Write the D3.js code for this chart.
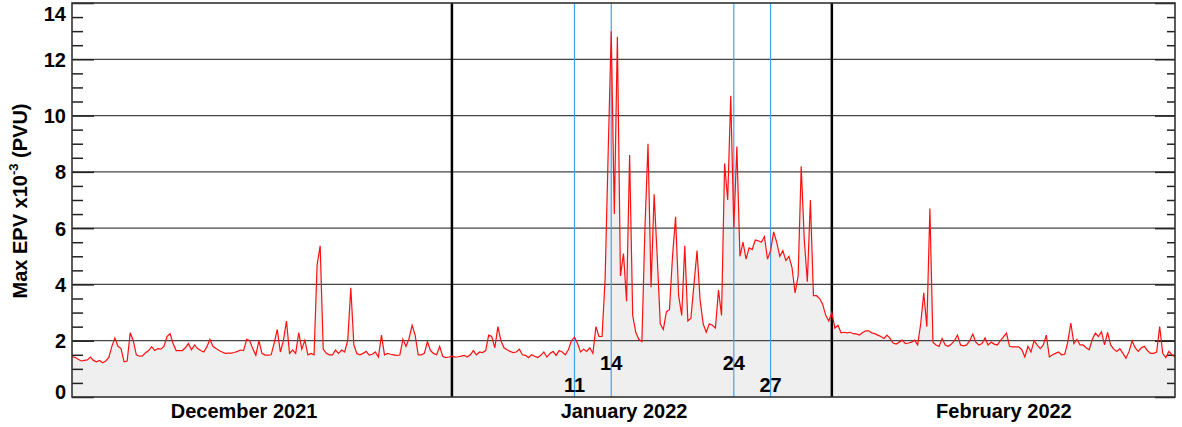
<!DOCTYPE html>
<html>
<head>
<meta charset="UTF-8">
<title>Max EPV</title>
<script src="https://d3js.org/d3.v7.min.js"></script>
<style>
  body { margin: 0; background: #fff; }
  text { font-family: "Liberation Sans", Arial, sans-serif; font-weight: bold; }
</style>
</head>
<body>
<div id="chart"></div>
<script>
// 6-hourly values, x10^-3 PVU
const decValues = [
  1.43,1.41,1.34,1.28, 1.30,1.32,1.42,1.30, 1.25,1.30,1.22,1.28, 1.40,1.80,2.10,1.80,
  1.72,1.25,1.28,2.28, 2.00,1.50,1.45,1.46, 1.57,1.65,1.79,1.65, 1.72,1.70,1.80,2.15,
  2.25,1.90,1.65,1.65, 1.65,1.75,1.90,1.68, 1.85,1.72,1.65,1.60, 1.78,2.05,1.80,1.72,
  1.65,1.60,1.55,1.56, 1.56,1.58,1.62,1.67, 1.65,2.05,2.00,1.72, 1.48,2.00,1.55,1.49,
  1.49,1.50,1.92,2.40, 1.60,2.00,2.70,1.55, 1.67,1.55,2.29,1.70, 2.02,1.50,1.55,1.50,
  4.70,5.37,1.70,1.55, 1.50,1.50,1.67,1.55, 1.67,1.60,2.02,3.88, 1.85,1.54,1.50,1.55,
  1.62,1.49,1.52,1.60, 1.42,2.20,1.50,1.55, 1.52,1.50,1.48,1.49, 2.05,1.80,2.08,2.55,
  2.20,1.50,1.50,1.55, 1.97,1.65,1.55,1.50, 1.80,1.45,1.40,1.42
]
const janValues = [
  1.45,1.42,1.43,1.45, 1.48,1.42,1.50,1.65, 1.50,1.60,1.58,1.65, 2.20,2.15,1.75,2.50,
  2.00,1.75,1.68,1.62, 1.58,1.60,1.70,1.50, 1.48,1.40,1.50,1.45, 1.40,1.48,1.60,1.42,
  1.55,1.62,1.48,1.65, 1.60,1.50,1.68,2.00, 2.12,1.90,1.60,1.70, 1.62,1.75,1.55,2.50,
  2.15,2.15,4.20,8.70, 13.00,6.50,12.80,4.30, 5.10,3.40,8.60,2.90, 2.30,2.05,1.97,6.00,
  9.00,3.90,7.20,5.00, 2.60,2.40,3.03,3.10, 5.00,6.40,3.60,2.90, 5.37,2.70,2.80,4.00,
  5.20,3.45,2.60,2.30, 2.60,2.55,2.45,3.80, 2.90,8.30,7.00,10.70, 6.00,8.90,5.00,5.50,
  4.90,5.30,5.24,5.58, 5.55,5.50,5.70,4.90, 5.20,5.87,5.50,5.00, 5.20,4.85,5.00,4.60,
  3.70,4.30,8.20,5.60, 4.10,7.00,3.60,3.60, 3.50,3.30,2.90,2.70
]
const febValues = [
  3.00,2.45,2.55,2.28, 2.30,2.28,2.30,2.25, 2.24,2.20,2.28,2.35, 2.35,2.28,2.25,2.20,
  2.15,2.08,2.20,2.08, 1.92,1.88,1.95,2.02, 1.90,1.92,1.95,2.02, 1.85,2.60,3.70,2.50,
  6.70,1.95,1.85,1.80, 2.08,1.85,1.80,1.88, 2.00,2.20,1.85,1.82, 1.85,2.00,2.24,1.95,
  1.85,1.90,2.10,1.85, 1.95,1.88,1.85,2.00, 2.14,2.27,1.80,1.78, 1.78,1.78,1.68,1.42,
  1.80,1.60,2.00,1.85, 1.72,1.85,2.20,1.42, 1.50,1.55,1.60,1.50, 1.52,1.95,2.63,1.90,
  2.05,1.85,1.85,1.75, 1.68,2.05,2.27,2.15, 2.32,1.85,2.30,1.85, 1.70,1.62,1.72,1.55,
  1.38,1.62,2.00,1.75, 1.62,1.75,1.80,1.65, 1.55,1.55,1.60,2.50, 1.55,1.40,1.62,1.50,
  1.42
]
const markDays = [11, 14, 24, 27]   // January 2022
const monthLabels = ["December 2021", "January 2022", "February 2022"]
const yTicks = [0, 2, 4, 6, 8, 10, 12, 14]

const width = 1182
const height = 427
const padding = {top: 3, left: 72, right: 7, bottom: 30}

const svg = d3.select("#chart").append("svg").attr("width", width).attr("height", height)

const start = new Date(Date.UTC(2021, 11, 1))
const end = new Date(Date.UTC(2022, 2, 1))
const series = decValues.concat(janValues, febValues)
  .map((v, i) => ({t: d3.utcHour.offset(start, 6 * i), v: v}))

const xScale = d3.scaleUtc().domain([start, end]).range([padding.left, width - padding.right])
const yScale = d3.scaleLinear().domain([0, 14]).range([height - padding.bottom, padding.top])

const x0 = padding.left, x1 = width - padding.right
const y0 = height - padding.bottom, y1 = padding.top

// grey fill under the curve
const area = d3.area().x(d => xScale(d.t)).y0(yScale(0)).y1(d => yScale(d.v))
svg.append("path").datum(series).attr("d", area).attr("fill", "#efefef")

// horizontal grid
svg.append("g").selectAll("line").data(yTicks.slice(1, -1)).enter().append("line")
  .attr("x1", x0).attr("x2", x1)
  .attr("y1", d => yScale(d)).attr("y2", d => yScale(d))
  .attr("stroke", "#444").attr("stroke-width", 1.2)

// ticks inside the frame, left and right
const minor = d3.range(0, 14.01, 0.5).filter(v => v % 2 !== 0)
const tickLines = (g, axis) => { g.call(axis); g.select(".domain").remove(); g.selectAll("line").attr("stroke", "#222").attr("stroke-width", 1.5) }
svg.append("g").attr("transform", `translate(${x0},0)`)
  .call(g => tickLines(g, d3.axisRight(yScale).tickValues(yTicks).tickSize(22).tickFormat("")))
svg.append("g").attr("transform", `translate(${x0},0)`)
  .call(g => tickLines(g, d3.axisRight(yScale).tickValues(minor).tickSize(11).tickFormat("")))
svg.append("g").attr("transform", `translate(${x1},0)`)
  .call(g => tickLines(g, d3.axisLeft(yScale).tickValues(yTicks).tickSize(20).tickFormat("")))
svg.append("g").attr("transform", `translate(${x1},0)`)
  .call(g => tickLines(g, d3.axisLeft(yScale).tickValues(minor).tickSize(8).tickFormat("")))

// y labels
const gY = svg.append("g").attr("transform", `translate(${x0},0)`)
  .call(d3.axisLeft(yScale).tickValues(yTicks).tickSize(0).tickPadding(6))
gY.select(".domain").remove()
gY.selectAll("text").attr("font-size", "20px").attr("fill", "#000")
  .attr("font-family", null)
  .attr("dy", d => d === 14 ? "0.85em" : d === 0 ? "0.05em" : "0.35em")

// blue marker lines
const jan = d => new Date(Date.UTC(2022, 0, d))
svg.append("g").selectAll("line").data(markDays).enter().append("line")
  .attr("x1", d => xScale(jan(d))).attr("x2", d => xScale(jan(d)))
  .attr("y1", y1).attr("y2", y0)
  .attr("stroke", "#3fa3f5").attr("stroke-width", 1.2)

// month separators
svg.append("g").selectAll("line").data([jan(1), new Date(Date.UTC(2022, 1, 1))]).enter().append("line")
  .attr("x1", d => xScale(d)).attr("x2", d => xScale(d))
  .attr("y1", y1).attr("y2", y0)
  .attr("stroke", "#000").attr("stroke-width", 2.5)

// red line
const line = d3.line().x(d => xScale(d.t)).y(d => yScale(d.v))
svg.append("path").datum(series).attr("d", line)
  .attr("fill", "none").attr("stroke", "#ff1010").attr("stroke-width", 1.2)

// frame
svg.append("rect").attr("x", x0).attr("y", y1).attr("width", x1 - x0).attr("height", y0 - y1)
  .attr("fill", "none").attr("stroke", "#333").attr("stroke-width", 1.6)

// day labels
svg.append("g").selectAll("text").data(markDays).enter().append("text")
  .attr("x", d => xScale(jan(d))).attr("y", (d, i) => (i === 1 || i === 2) ? yScale(0.95) : yScale(0.17))
  .attr("text-anchor", "middle").attr("font-size", "20px").text(d => d)

// month labels on the 15th
const mids = [new Date(Date.UTC(2021, 11, 15)), new Date(Date.UTC(2022, 0, 15)), new Date(Date.UTC(2022, 1, 15))]
const gX = svg.append("g").attr("transform", `translate(0,${y0})`)
  .call(d3.axisBottom(xScale).tickValues(mids).tickSize(0).tickFormat((d, i) => monthLabels[i]))
gX.select(".domain").remove()
gX.selectAll("text").attr("font-size", "20px").attr("fill", "#000").attr("font-family", null)
  .attr("y", 21).attr("dy", 0)

// y title
const title = svg.append("text").attr("transform", "translate(27,201) rotate(-90)")
  .attr("text-anchor", "middle").attr("font-size", "20px")
title.append("tspan").text("Max EPV x10")
title.append("tspan").attr("font-size", "13px").attr("dy", -9).text("-3")
title.append("tspan").attr("dy", 9).text(" (PVU)")
</script>
</body>
</html>
